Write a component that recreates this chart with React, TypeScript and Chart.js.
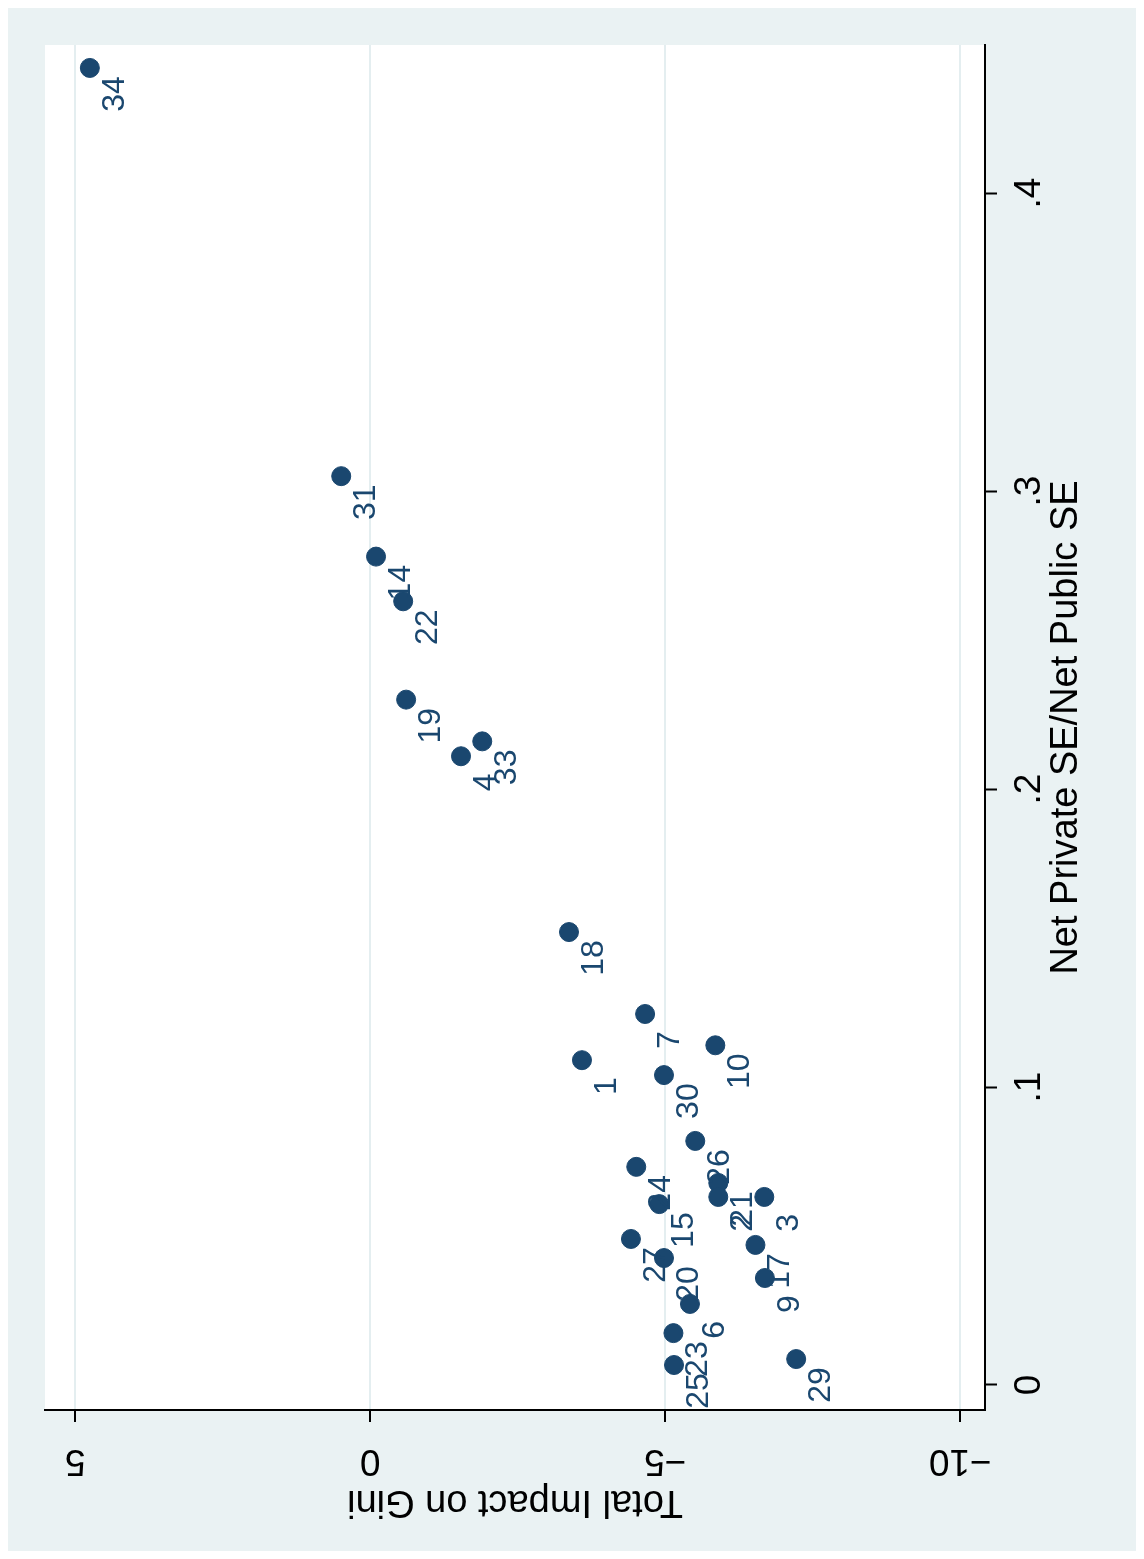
import React, { useEffect, useRef } from "react";
import { Chart, registerables } from "chart.js";

Chart.register(...registerables);

// one entry per country: id, ratio (net private SE / net public SE), total impact on Gini
const ids = ["34", "31", "14", "22", "19", "33", "4", "18", "7", "1", "10", "30", "26", "24", "15", "21", "2", "3", "27", "20", "17", "9", "6", "23", "25", "29"];
const ratio = [0.442, 0.305, 0.278, 0.263, 0.230, 0.216, 0.211, 0.152, 0.1245, 0.109, 0.114, 0.104, 0.0819, 0.0732, 0.0607, 0.0678, 0.0631, 0.0631, 0.049, 0.0426, 0.047, 0.0359, 0.0272, 0.0174, 0.0067, 0.0087];
const gini = [4.75, 0.49, -0.1, -0.56, -0.61, -1.9, -1.54, -3.37, -4.66, -3.59, -5.85, -4.98, -5.51, -4.51, -4.9, -5.9, -5.9, -6.68, -4.42, -4.98, -6.53, -6.69, -5.42, -5.14, -5.15, -7.22];

const giniTicks = [5, 0, -5, -10];
const ratioTicks = [0, 0.1, 0.2, 0.3, 0.4];
const ratioTickLabels = ["0", ".1", ".2", ".3", ".4"];

const navy = "#1a476f";
const font = "Arial, 'Liberation Sans', sans-serif";

const fmtGini = (v: number) => (v < 0 ? "\u2212" + Math.abs(v) : String(v));

// the graph is shown turned on its side, so every text is drawn by hand with rotation
const textPlugin = {
  id: "rotatedText",
  afterDraw(chart: any) {
    const { ctx, scales, chartArea } = chart;
    const xs = scales.x;
    const ys = scales.y;
    const put = (t: string, x: number, y: number, angle: number, size: number, color: string) => {
      ctx.save();
      ctx.translate(x, y);
      ctx.rotate(angle);
      ctx.font = `${size}px ${font}`;
      ctx.fillStyle = color;
      ctx.textAlign = "center";
      ctx.textBaseline = "middle";
      ctx.fillText(t, 0, 0);
      ctx.restore();
    };
    // point labels
    const meta = chart.getDatasetMeta(0);
    meta.data.forEach((p: any, i: number) => {
      put(ids[i], p.x + 25, p.y + 26, -Math.PI / 2, 32, navy);
    });
    // gini axis (bottom), upside down
    giniTicks.forEach((v) => {
      put(fmtGini(v), xs.getPixelForValue(v), chartArea.bottom + 50, Math.PI, 37, "#000");
    });
    put("Total Impact on Gini", (chartArea.left + chartArea.right) / 2, chartArea.bottom + 91, Math.PI, 38, "#000");
    // ratio axis (right), reading upward
    ratioTicks.forEach((v, i) => {
      put(ratioTickLabels[i], chartArea.right + 45, ys.getPixelForValue(v), -Math.PI / 2, 37, "#000");
    });
    put("Net Private SE/Net Public SE", chartArea.right + 82, (chartArea.top + chartArea.bottom) / 2, -Math.PI / 2, 38, "#000");
  },
};

const plotBg = {
  id: "plotBg",
  beforeDraw(chart: any) {
    const { ctx, chartArea } = chart;
    ctx.save();
    ctx.fillStyle = "#ffffff";
    ctx.fillRect(chartArea.left, chartArea.top, chartArea.right - chartArea.left, chartArea.bottom - chartArea.top);
    ctx.restore();
  },
};

export default function App() {
  const canvasRef = useRef<HTMLCanvasElement>(null);

  useEffect(() => {
    if (!canvasRef.current) return;
    const chart = new Chart(canvasRef.current, {
      type: "scatter",
      data: {
        datasets: [
          {
            data: ratio.map((r, i) => ({ x: gini[i], y: r })),
            backgroundColor: navy,
            borderColor: navy,
            pointRadius: 9.5,
            borderWidth: 1,
          },
        ],
      },
      options: {
        responsive: false,
        animation: false,
        layout: { padding: { left: 37, top: 37, right: 0, bottom: 0 } },
        plugins: { legend: { display: false }, tooltip: { enabled: false } },
        scales: {
          x: {
            type: "linear",
            reverse: true,
            position: "bottom",
            min: -10.42,
            max: 5.51,
            afterBuildTicks: (s: any) => {
              s.ticks = giniTicks.map((v) => ({ value: v }));
            },
            afterFit: (s: any) => {
              s.height = 141;
            },
            ticks: { display: false },
            grid: { color: "#e4eef0", lineWidth: 2, tickLength: 12, tickColor: "#000", tickWidth: 2 },
            border: { color: "#000", width: 2 },
          },
          y: {
            type: "linear",
            position: "right",
            min: -0.0084,
            max: 0.4497,
            afterBuildTicks: (s: any) => {
              s.ticks = ratioTicks.map((v) => ({ value: v }));
            },
            afterFit: (s: any) => {
              s.width = 151;
            },
            ticks: { display: false },
            grid: { drawOnChartArea: false, tickLength: 12, tickColor: "#000", tickWidth: 2 },
            border: { color: "#000", width: 2 },
          },
        },
      },
      plugins: [plotBg, textPlugin],
    });
    return () => chart.destroy();
  }, []);

  return (
    <div style={{ width: 1128, height: 1543, background: "#eaf2f3" }}>
      <canvas ref={canvasRef} width={1128} height={1543} style={{ width: 1128, height: 1543, display: "block" }} />
    </div>
  );
}
